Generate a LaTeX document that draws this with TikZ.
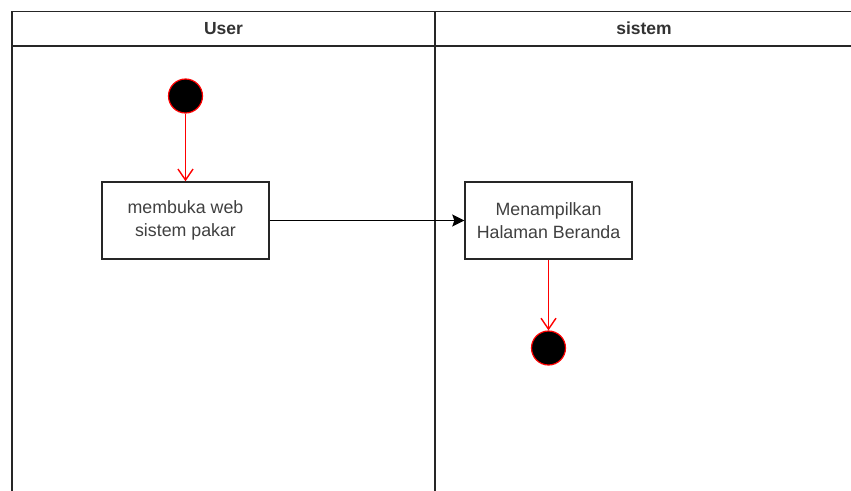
\documentclass[tikz,border=0pt]{standalone}
\usepackage{fontspec}
\setmainfont{Liberation Sans}
\usetikzlibrary{arrows.meta}
\begin{document}
\begin{tikzpicture}[x=1pt,y=-1pt,
  lane/.style={draw=black!85,line width=1.4pt},
  actbox/.style={draw=black!85,line width=1.4pt,fill=white,minimum width=167pt,minimum height=77pt,
    align=center,font=\fontsize{17.8}{23}\selectfont,text=black!75,inner sep=0pt},
  dot/.style={circle,fill=black,draw=red,line width=1.2pt,minimum size=34pt,inner sep=0pt},
  redflow/.style={draw=red,line width=1.4pt,-{Straight Barb[length=11pt,width=15pt,line width=1.4pt]}},
  blackflow/.style={draw=black,line width=1.4pt,-{Stealth[length=12pt,width=12pt,inset=2pt]}},
  lanetitle/.style={font=\fontsize{17.5}{20}\selectfont\bfseries,text=black!80}
]
\useasboundingbox (0,0) rectangle (851,490);
\fill[white] (0,0) rectangle (851,490);

% swimlane frame (open to the right and bottom)
\begin{scope}
  \clip (0,0) rectangle (851,490);
  \draw[lane] (12,500) -- (12,11.5) -- (870,11.5);
  \draw[lane] (12,46) -- (870,46);
  \draw[lane] (435,11.5) -- (435,500);
\end{scope}
\node[lanetitle] (userlane) at (223.5,28.5) {User};
\node[lanetitle] (syslane) at (644,28.5) {sistem};

% activity nodes
\node[dot] (start) at (185.5,96) {};
\node[actbox] (open) at (185.5,220.5) {membuka web\\sistem pakar};
\node[actbox] (home) at (548.5,220.5) {Menampilkan\\Halaman Beranda};
\node[dot] (finish) at (548.5,348) {};

% flows
\draw[redflow] (start) -- (open);
\draw[blackflow] (open) -- (home);
\draw[redflow] (home) -- (finish);
\end{tikzpicture}
\end{document}
